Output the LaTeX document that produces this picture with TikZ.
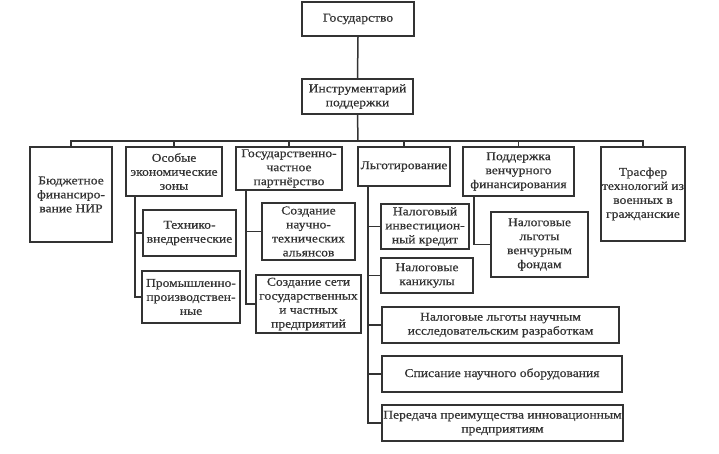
\documentclass[tikz,border=0pt]{standalone}
\usepackage{fontspec}
\setmainfont[FakeStretch=1.13,FakeBold=0.6]{Liberation Serif}
\begin{document}
\begin{tikzpicture}[x=1pt,y=-1pt,
  box/.style={draw=black!80,line width=1.7pt,align=center,inner xsep=0pt,inner ysep=0pt,
    font=\fontsize{12}{14}\selectfont,text=black!80},
  link/.style={draw=black!80,line width=1.5pt}]
\useasboundingbox[fill=white] (0,0) rectangle (719,453);
\newcommand\mybox[6]{%
 \pgfmathsetmacro\bxcx{(#2+#4)/2}\pgfmathsetmacro\bxcy{(#3+#5)/2}%
 \pgfmathsetmacro\bxw{#4-#2}\pgfmathsetmacro\bxh{#5-#3}%
 \node[box,minimum width=\bxw pt,minimum height=\bxh pt] (#1) at (\bxcx,\bxcy) {#6};}
\mybox{gos}{302}{2}{414}{36}{Государство}
\mybox{instr}{302}{79}{413}{114}{Инструментарий\\поддержки}
\mybox{bud}{30}{147}{112}{242}{Бюджетное\\финансиро-\\вание НИР}
\mybox{osob}{126}{147}{222}{196}{Особые\\экономические\\зоны}
\mybox{gchp}{236}{147}{342}{190}{Государственно-\\частное\\партнёрство}
\mybox{lgot}{358}{147}{450}{186}{Льготирование}
\mybox{podd}{463}{147}{574}{196}{Поддержка\\венчурного\\финансирования}
\mybox{trans}{601}{147}{685}{241}{Трасфер\\технологий из\\военных в\\гражданские}
\mybox{tech}{143}{210}{236}{256}{Технико-\\внедренческие}
\mybox{prom}{142}{271}{240}{323}{Промышленно-\\производствен-\\ные}
\mybox{nauch}{262}{203}{355}{260}{Создание\\научно-\\технических\\альянсов}
\mybox{set}{256}{275}{361}{333}{Создание сети\\государственных\\и частных\\предприятий}
\mybox{invest}{381}{204}{469}{249}{Налоговый\\инвестицион-\\ный кредит}
\mybox{kanik}{381}{258}{473}{293}{Налоговые\\каникулы}
\mybox{nir}{382}{307}{619}{343}{Налоговые льготы научным\\исследовательским разработкам}
\mybox{spis}{382}{356}{622}{392}{Списание научного оборудования}
\mybox{pered}{382}{405}{623}{441}{Передача преимущества инновационным\\предприятиям}
\mybox{venf}{491}{212}{588}{277}{Налоговые\\льготы\\венчурным\\фондам}
\coordinate (bus) at (358,141);
\draw[link] (gos.south) -- (instr.north);
\draw[link] (instr.south) -- (bus);
\foreach \n in {bud,osob,gchp,lgot,podd,trans} \draw[link] (bus) -| (\n.north);
\foreach \n in {tech,prom} \draw[link] ([xshift=10pt]osob.south west) |- (\n.west);
\foreach \n in {nauch,set} \draw[link] ([xshift=11pt]gchp.south west) |- (\n.west);
\foreach \n in {invest,kanik,nir,spis,pered} \draw[link] ([xshift=11pt]lgot.south west) |- (\n.west);
\draw[link] ([xshift=12pt]podd.south west) |- (venf.west);
\end{tikzpicture}
\end{document}
